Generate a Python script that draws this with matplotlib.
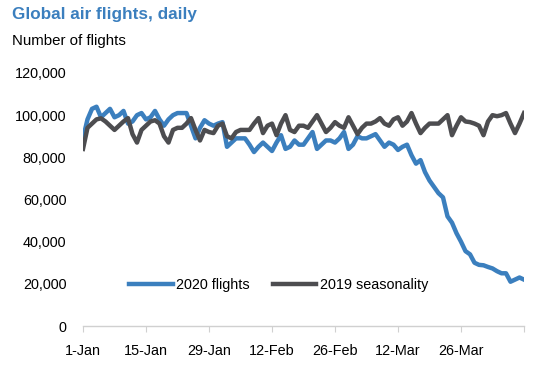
import matplotlib.pyplot as plt
import numpy as np
from matplotlib.ticker import FuncFormatter

plt.rcParams["font.family"] = ["Liberation Sans", "DejaVu Sans"]

# daily values, thousands of flights, 1-Jan .. 8-Apr
flights_2020 = [
    89, 98, 103, 104, 99, 101, 103, 99, 100, 102,
    96, 97, 100, 101, 98, 99, 102, 98, 95, 98,
    100, 101, 101, 101, 95, 89, 94, 97.6, 96, 95,
    96, 96.7, 85, 87, 89, 89, 89, 86, 82.5, 85,
    87, 85, 83, 87, 90.5, 84, 85, 88, 86, 86,
    89, 92, 84, 86, 88, 88, 87, 89, 92, 84,
    86, 90, 89, 89, 90, 91, 88, 85, 87, 86,
    83.5, 85, 86, 81, 77, 78.7, 73, 69, 66, 63,
    61, 52, 49, 44, 40, 35.5, 34, 30, 29, 28.8,
    28, 27.3, 26, 25, 25, 21, 22, 23, 22,
]
seasonality_2019 = [
    84, 94, 96, 98, 98.5, 97, 95, 93, 95, 97,
    98.6, 91, 87, 93, 95, 97, 97.6, 96, 90, 87,
    93, 94, 94, 96, 98.6, 93, 88, 93, 92, 91.5,
    95, 96, 90, 89, 92, 93, 93, 93, 96, 98.6,
    91.5, 95, 96, 90.5, 96, 100, 93, 92, 95, 95,
    94, 97, 100, 96, 92, 94, 96.7, 95, 94, 99,
    95, 91, 94, 96, 96, 97, 98.6, 96, 95, 98,
    99, 95, 97, 101, 96, 91.5, 94, 96, 96, 96,
    98, 100, 90.5, 95, 99, 97, 96.7, 96, 95, 90.5,
    97, 100, 99.5, 100, 101, 96, 91.5, 96, 101,
]
tick_days = [0, 14, 28, 42, 56, 70, 84, 98]
tick_labels = ["1-Jan", "15-Jan", "29-Jan", "12-Feb", "26-Feb", "12-Mar", "26-Mar", ""]

blue = "#3B7FBE"
grey = "#4D4D50"

days = np.arange(len(flights_2020))

fig = plt.figure(figsize=(5.38, 3.68), dpi=100)
ax = fig.add_axes([83 / 538, 42 / 368, 441 / 538, 253 / 368])

ax.plot(days, np.array(flights_2020) * 1000, color=blue, lw=3.2, label="2020 flights", solid_joinstyle="round")
ax.plot(days, np.array(seasonality_2019) * 1000, color=grey, lw=3.2, label="2019 seasonality", solid_joinstyle="round")

ax.set_xlim(0, 98)
ax.set_ylim(0, 120000)
ax.set_yticks(np.arange(0, 120001, 20000))
ax.yaxis.set_major_formatter(FuncFormatter(lambda v, _: f"{int(v):,}"))
ax.set_xticks(tick_days)
ax.set_xticklabels(tick_labels)

for side in ["top", "right", "left"]:
    ax.spines[side].set_visible(False)
ax.spines["bottom"].set_color("#D0D0D0")
ax.spines["bottom"].set_linewidth(1.0)
ax.tick_params(axis="y", length=0, pad=12, labelsize=10.4)
ax.tick_params(axis="x", length=4, color="#D0D0D0", pad=9, labelsize=10.4)

ax.legend(loc="center", bbox_to_anchor=(0.444, 0.162), ncol=2, frameon=False,
          fontsize=10.4, handlelength=3.0, handletextpad=0.25, columnspacing=1.6,
          borderaxespad=0)

fig.text(12 / 538, 1 - 14 / 368, "Global air flights, daily", color=blue,
         fontsize=12.3, fontweight="bold", va="center", ha="left")
fig.text(12 / 538, 1 - 41 / 368, "Number of flights", color="black",
         fontsize=10.8, va="center", ha="left")

fig.savefig("out.png", dpi=100)
